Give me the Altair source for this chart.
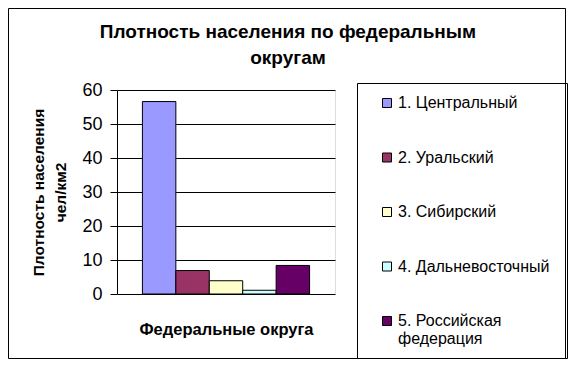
import altair as alt
import pandas as pd

districts = ["1. Центральный", "2. Уральский", "3. Сибирский", "4. Дальневосточный", "5. Российская федерация"]
density = [56.6, 6.9, 3.9, 1.1, 8.4]
colors = ["#9999FF", "#993366", "#FFFFCC", "#CCFFFF", "#660066"]
y_ticks = [0, 10, 20, 30, 40, 50, 60]
title_lines = ["Плотность населения по федеральным", "округам"]
y_title = ["Плотность населения", "чел/км2"]
x_title = "Федеральные округа"

df = pd.DataFrame({"district": districts, "density": density})
frame_df = pd.DataFrame({"k": [0]})

FONT = "Liberation Sans"
W, H = 218, 204
PAD_L, PAD_T, PAD_R, PAD_B = 109, 82, 233, 65

label_expr = ("datum.label == '5. Российская федерация' ? "
              "['5. Российская', 'федерация'] : datum.label")

bars = alt.Chart(df).mark_bar(stroke="black", strokeWidth=1).encode(
    x=alt.X("district:N", sort=districts,
            scale=alt.Scale(paddingInner=0, paddingOuter=0.76),
            axis=alt.Axis(title=x_title, labels=False, ticks=False, domain=False,
                          titleFont=FONT, titleFontSize=16.5, titleFontWeight="bold",
                          titleColor="black", titlePadding=27)),
    y=alt.Y("density:Q", scale=alt.Scale(domain=[0, 60], nice=False),
            axis=alt.Axis(values=y_ticks, title=y_title, grid=True, gridColor="black",
                          gridOpacity=1, gridWidth=1, domain=True, domainColor="black",
                          tickColor="black", tickSize=7, labelPadding=8,
                          labelFont=FONT, labelFontSize=18, labelColor="black",
                          titleFont=FONT, titleFontSize=15.5, titleFontWeight="bold",
                          titleColor="black", titlePadding=13, titleLineHeight=22)),
    color=alt.Color("district:N",
                    scale=alt.Scale(domain=districts, range=colors),
                    legend=alt.Legend(title=None, orient="none", legendX=262, legendY=5,
                                      symbolType="square", symbolSize=81,
                                      symbolStrokeColor="black", symbolStrokeWidth=1,
                                      labelFont=FONT, labelFontSize=16, labelColor="black",
                                      labelOffset=3, rowPadding=38.5, padding=0,
                                      labelLimit=300, labelExpr=label_expr)),
)

title = alt.Chart(frame_df).mark_text(
    font=FONT, fontSize=19, fontWeight="bold", color="black",
    align="center", baseline="alphabetic", lineHeight=26
).encode(x=alt.value(171), y=alt.value(-52), text=alt.value(title_lines))

outer = alt.Chart(frame_df).mark_rect(fill="transparent", stroke="black", strokeWidth=1).encode(
    x=alt.value(-108.5), x2=alt.value(448.5), y=alt.value(-81.5), y2=alt.value(268.5)
)
legend_box = alt.Chart(frame_df).mark_rect(fill="transparent", stroke="black", strokeWidth=1).encode(
    x=alt.value(240.5), x2=alt.value(450.5), y=alt.value(-6.5), y2=alt.value(268.5)
)

chart = alt.layer(outer, legend_box, title, bars).properties(
    width=W, height=H,
    autosize=alt.AutoSizeParams(type="none"),
    padding={"left": PAD_L, "top": PAD_T, "right": PAD_R, "bottom": PAD_B},
).configure_view(fill="#C0C0C0", stroke="black", strokeWidth=1).configure(background="white")

chart.save("out.html", embed_options={"renderer": "svg", "actions": False})
